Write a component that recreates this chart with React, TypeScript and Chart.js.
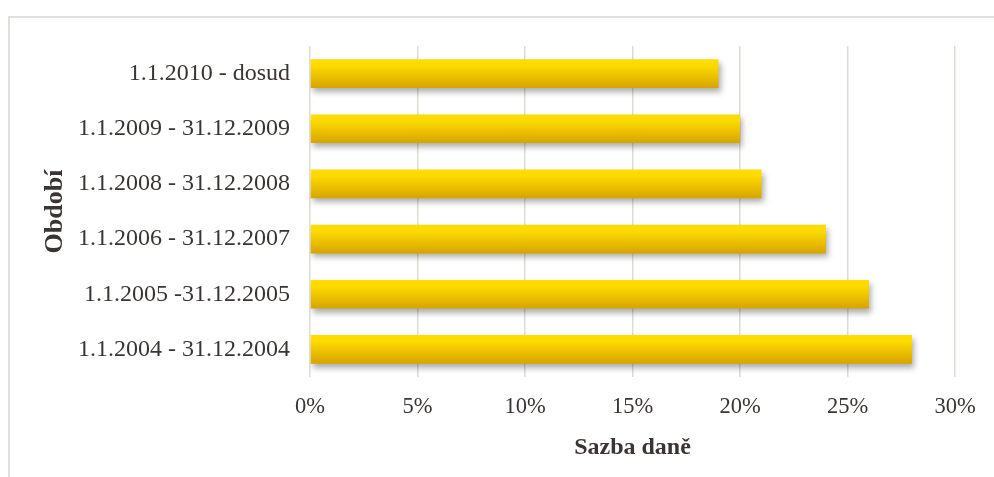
import React, { useEffect, useRef } from "react";
import { Chart, registerables } from "chart.js";

Chart.register(...registerables);

const categories = [
  "1.1.2010 - dosud",
  "1.1.2009 - 31.12.2009",
  "1.1.2008 - 31.12.2008",
  "1.1.2006 - 31.12.2007",
  "1.1.2005 -31.12.2005",
  "1.1.2004 - 31.12.2004",
];
const taxRates = [0.19, 0.2, 0.21, 0.24, 0.26, 0.28];
const xTickStep = 0.05;
const xMax = 0.3;
const xTitle = "Sazba daně";
const yTitle = "Období";

const FONT = "'Liberation Serif', 'Times New Roman', serif";
const TEXT = "#3a3533";
const BAR_PCT = 0.52;

const shadowPlugin = {
  id: "barShadow",
  beforeDatasetDraw(chart: any) {
    const ctx = chart.ctx;
    ctx.save();
    ctx.shadowColor = "rgba(0,0,0,0.32)";
    ctx.shadowBlur = 6;
    ctx.shadowOffsetX = 2;
    ctx.shadowOffsetY = 4;
  },
  afterDatasetDraw(chart: any) {
    chart.ctx.restore();
  },
};

export default function App() {
  const ref = useRef<HTMLCanvasElement | null>(null);

  useEffect(() => {
    if (!ref.current) return;
    const chart = new Chart(ref.current, {
      type: "bar",
      data: {
        labels: categories,
        datasets: [
          {
            data: taxRates,
            barPercentage: BAR_PCT,
            categoryPercentage: 1,
            borderWidth: 0,
            backgroundColor: (context: any) => {
              const ch = context.chart;
              const y = ch.scales && ch.scales.y;
              if (!ch.chartArea || !y) return "#f2c800";
              const c = y.getPixelForValue(context.dataIndex);
              const h = ((y.bottom - y.top) / categories.length) * BAR_PCT;
              const g = ch.ctx.createLinearGradient(0, c - h / 2, 0, c + h / 2);
              g.addColorStop(0, "#ffdd00");
              g.addColorStop(0.25, "#fcd900");
              g.addColorStop(1, "#d6a400");
              return g;
            },
          },
        ],
      },
      options: {
        indexAxis: "y",
        animation: false,
        responsive: false,
        layout: { padding: { left: 0, top: 46, right: 39, bottom: 0 } },
        plugins: {
          legend: { display: false },
          tooltip: { enabled: false },
        },
        scales: {
          x: {
            min: 0,
            max: xMax,
            ticks: {
              stepSize: xTickStep,
              padding: 17,
              color: TEXT,
              font: { family: FONT, size: 22.5 },
              callback: (v: any) => Math.round(Number(v) * 100) + "%",
            },
            grid: { color: "#dfdad7", lineWidth: 1.5, drawTicks: false },
            border: { display: false },
            title: {
              display: true,
              text: xTitle,
              color: TEXT,
              font: { family: FONT, size: 24, weight: "bold" },
              padding: { top: 0, bottom: 15 },
            },
            afterFit: (scale: any) => {
              scale.height = 100;
            },
          },
          y: {
            ticks: {
              padding: 20,
              color: TEXT,
              font: { family: FONT, size: 24 },
            },
            grid: { display: false, drawTicks: false },
            border: { display: false },
            title: {
              display: true,
              text: yTitle,
              color: TEXT,
              font: { family: FONT, size: 26, weight: "bold" },
              padding: { top: 40, bottom: 0 },
            },
            afterFit: (scale: any) => {
              scale.width = 310;
            },
          },
        },
      },
      plugins: [shadowPlugin],
    } as any);
    return () => chart.destroy();
  }, []);

  return (
    <div style={{ position: "absolute", left: 0, top: 0, width: 994, height: 477, overflow: "hidden", background: "#fff" }}>
      <div
        style={{
          position: "absolute",
          left: 8,
          top: 16,
          width: 1000,
          height: 500,
          borderTop: "2px solid #e4dfdb",
          borderLeft: "2px solid #e4dfdb",
        }}
      />
      <canvas ref={ref} width={994} height={477} style={{ position: "absolute", left: 0, top: 0, width: 994, height: 477 }} />
    </div>
  );
}
